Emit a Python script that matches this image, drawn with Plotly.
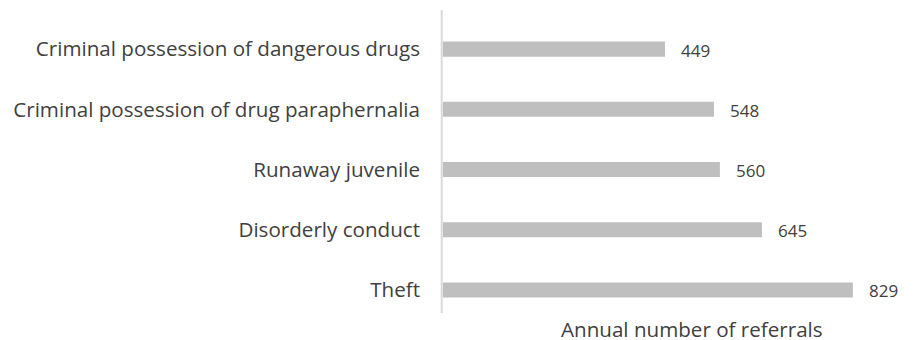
import plotly.graph_objects as go

categories = ["Theft", "Disorderly conduct", "Runaway juvenile",
              "Criminal possession of drug paraphernalia",
              "Criminal possession of dangerous drugs"]
values = [829, 645, 560, 548, 449]
x_title = "Annual number of referrals"

FONT = "Open Sans"
TXT = "#404040"

# page body has an 8px margin; figure is sized/offset to compensate
W, H = 907, 332
L, R, T, B = 435, 27, 11, 20

fig = go.Figure(go.Bar(
    x=values, y=categories, orientation="h",
    marker=dict(color="#bfbfbf", line=dict(width=0)),
    width=0.25, hoverinfo="skip",
))

for v, c in zip(values, categories):
    fig.add_annotation(x=v, y=c, text=str(v), showarrow=False,
                       xanchor="left", xshift=14, yshift=-1,
                       font=dict(family=FONT, size=17, color=TXT))

plot_w = W - L - R
plot_h = H - T - B
fig.add_annotation(
    text=x_title, showarrow=False,
    x=(684 - L) / plot_w, y=-(320.5 - (H - B)) / plot_h,
    xref="x domain", yref="y domain", yanchor="middle", xanchor="center",
    font=dict(family=FONT, size=20.6, color=TXT))

# vertical axis line (extends slightly differently from the category band)
fig.add_shape(type="line", xref="paper", yref="paper",
              x0=-1.3 / plot_w, x1=-1.3 / plot_w,
              y0=(H - B - 305) / plot_h, y1=(H - B - 2) / plot_h,
              line=dict(color="#d9d9d9", width=2), layer="below")

fig.update_layout(
    width=W, height=H,
    margin=dict(l=L, r=R, t=T, b=B, autoexpand=False),
    paper_bgcolor="white", plot_bgcolor="rgba(0,0,0,0)",
    font=dict(family=FONT, size=20.6, color=TXT),
    showlegend=False,
    xaxis=dict(range=[0, 900], visible=False, fixedrange=True),
    yaxis=dict(showline=False, ticks="", showgrid=False, zeroline=False,
               ticklabelstandoff=22, automargin=False,
               tickfont=dict(family=FONT, size=20.6, color=TXT),
               fixedrange=True),
)

fig.write_html("out.html")
